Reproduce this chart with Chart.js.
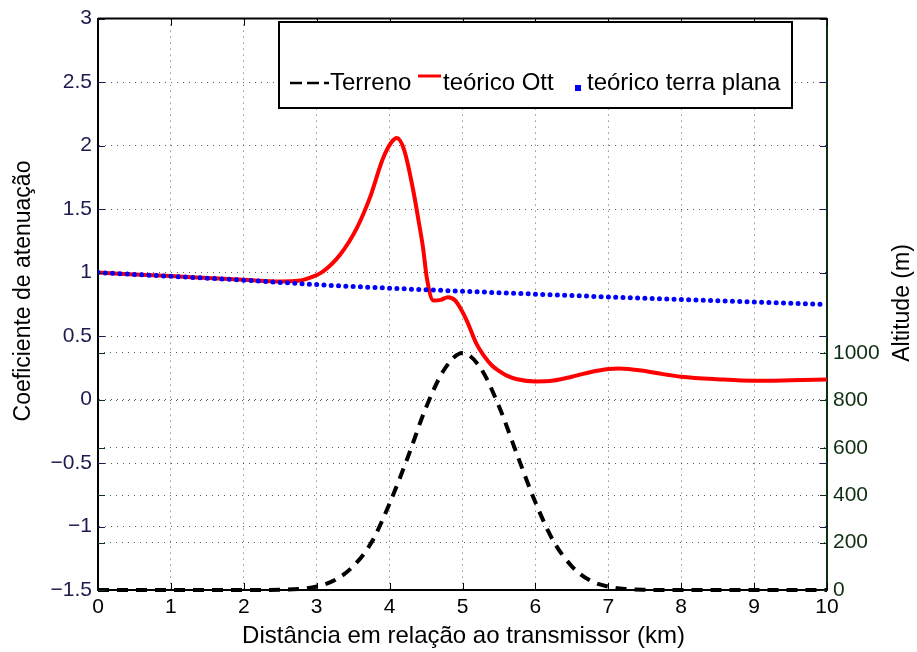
<!DOCTYPE html>
<html>
<head>
<meta charset="utf-8">
<script src="https://cdn.jsdelivr.net/npm/chart.js@4.4.1/dist/chart.umd.min.js"></script>
<style>
  html, body { margin: 0; padding: 0; background: #fff; }
  #wrap { width: 917px; height: 652px; }
</style>
</head>
<body>
<div id="wrap"><canvas id="attenuationChart" width="917" height="652"></canvas></div>
<script>
// ── Data ──────────────────────────────────────────
const ottKm   = [0, 0.5, 1, 1.5, 2, 2.5, 2.75, 2.86, 3.09, 3.32, 3.55, 3.73, 3.91, 4.03, 4.1, 4.2, 4.32, 4.4, 4.46, 4.51, 4.6, 4.7, 4.8, 4.9, 4.97, 5.06, 5.19, 5.3, 5.4, 5.5, 5.6, 5.75, 6.0, 6.25, 6.5, 6.75, 7.0, 7.15, 7.5, 7.75, 8.0, 8.5, 9.0, 9.5, 10];
const ottCoef = [1.0, 0.985, 0.972, 0.957, 0.943, 0.93, 0.935, 0.95, 1.01, 1.14, 1.35, 1.59, 1.90, 2.03, 2.06, 1.965, 1.66, 1.40, 1.19, 0.96, 0.78, 0.785, 0.805, 0.78, 0.72, 0.62, 0.44, 0.34, 0.27, 0.225, 0.19, 0.16, 0.143, 0.15, 0.18, 0.215, 0.24, 0.245, 0.225, 0.2, 0.18, 0.16, 0.148, 0.152, 0.158];

const flatKm   = [0, 1, 2, 3, 4, 5, 6, 7, 8, 9, 10];
const flatCoef = [1.0, 0.97, 0.94, 0.905, 0.877, 0.853, 0.83, 0.808, 0.787, 0.768, 0.748];

const terrainKm  = [0, 0.5, 1, 1.5, 2, 2.25, 2.5, 2.75, 3, 3.25, 3.5, 3.75, 4, 4.25, 4.5, 4.75, 5, 5.25, 5.5, 5.75, 6, 6.25, 6.5, 6.75, 7, 7.25, 7.5, 8, 8.5, 9, 9.5, 10];
const terrainAlt = [0, 0, 0, 0, 0, 0, 1, 4, 15, 42, 100, 200, 365, 560, 770, 930, 1000, 935, 775, 570, 370, 205, 100, 40, 14, 4, 1, 0, 0, 0, 0, 0];

const coefTicks = [-1.5, -1, -0.5, 0, 0.5, 1, 1.5, 2, 2.5, 3];
const altTicks  = [0, 200, 400, 600, 800, 1000];
const kmTicks   = [0, 1, 2, 3, 4, 5, 6, 7, 8, 9, 10];

const legendItems = ['Terreno', 'teórico Ott', 'teórico terra plana'];

const COLORS = {
  ott: '#ff0000',
  flat: '#0000ff',
  terrain: '#000000',
  left: '#1b1b4f',
  right: '#0f2f12',
  grid: 'rgba(40,40,40,0.75)',
};

const FONT = "'Liberation Sans', Arial, Helvetica, sans-serif";

const toPts = (xs, ys) => xs.map((x, i) => ({ x, y: ys[i] }));
const fmt = v => (v < 0 ? '\u2212' + Math.abs(v) : String(v));

// ── MATLAB-ish frame: inward ticks, titles, legend ──
const matlabFrame = {
  id: 'matlabFrame',
  afterDraw(chart) {
    const { ctx, chartArea: a, scales } = chart;
    const tl = 7;
    ctx.save();
    ctx.lineWidth = 1;

    // x ticks, bottom and top
    ctx.strokeStyle = '#000';
    kmTicks.forEach(v => {
      const px = Math.round(scales.x.getPixelForValue(v)) + 0.5;
      ctx.beginPath();
      ctx.moveTo(px, a.bottom); ctx.lineTo(px, a.bottom - tl);
      ctx.moveTo(px, a.top); ctx.lineTo(px, a.top + tl);
      ctx.stroke();
    });
    // left axis ticks, both sides
    ctx.strokeStyle = COLORS.left;
    coefTicks.forEach(v => {
      const py = Math.round(scales.y.getPixelForValue(v)) + 0.5;
      ctx.beginPath();
      ctx.moveTo(a.left, py); ctx.lineTo(a.left + tl, py);
      ctx.moveTo(a.right, py); ctx.lineTo(a.right - tl, py);
      ctx.stroke();
    });
    // right axis ticks, both sides
    ctx.strokeStyle = COLORS.right;
    altTicks.forEach(v => {
      const py = Math.round(scales.y2.getPixelForValue(v)) + 0.5;
      ctx.beginPath();
      ctx.moveTo(a.left, py); ctx.lineTo(a.left + tl, py);
      ctx.moveTo(a.right, py); ctx.lineTo(a.right - tl, py);
      ctx.stroke();
    });

    // top frame line
    ctx.strokeStyle = '#000';
    ctx.lineWidth = 2;
    ctx.beginPath();
    ctx.moveTo(a.left, a.top); ctx.lineTo(a.right, a.top);
    ctx.stroke();

    // axis titles
    ctx.textAlign = 'center';
    ctx.textBaseline = 'middle';
    ctx.fillStyle = '#000';
    ctx.font = '24px ' + FONT;
    ctx.fillText('Distância em relação ao transmissor (km)', (a.left + a.right) / 2 + 1, 636);
    ctx.font = '23px ' + FONT;
    ctx.save();
    ctx.translate(24, 291);
    ctx.rotate(-Math.PI / 2);
    ctx.fillText('Coeficiente de atenuação', 0, 0);
    ctx.restore();
    ctx.save();
    ctx.translate(903, 303);
    ctx.rotate(-Math.PI / 2);
    ctx.fillText('Altitude (m)', 0, 0);
    ctx.restore();

    // legend box
    const bx = 279, by = 22, bw = 513, bh = 86;
    ctx.fillStyle = '#fff';
    ctx.fillRect(bx, by, bw, bh);
    ctx.strokeStyle = '#000';
    ctx.lineWidth = 2;
    ctx.strokeRect(bx, by, bw, bh);

    ctx.font = '24px ' + FONT;
    ctx.textAlign = 'left';
    ctx.textBaseline = 'alphabetic';
    ctx.fillStyle = '#000';
    // Terreno sample
    ctx.lineWidth = 2.5;
    ctx.setLineDash([12, 5]);
    ctx.beginPath();
    ctx.moveTo(290, 83); ctx.lineTo(329, 83);
    ctx.stroke();
    ctx.setLineDash([]);
    ctx.fillText(legendItems[0], 330, 90);
    // Ott sample
    ctx.strokeStyle = COLORS.ott;
    ctx.lineWidth = 3;
    ctx.beginPath();
    ctx.moveTo(418, 76); ctx.lineTo(441, 76);
    ctx.stroke();
    ctx.fillText(legendItems[1], 443, 90);
    // flat earth sample
    ctx.fillStyle = COLORS.flat;
    ctx.fillRect(575, 85, 6, 6);
    ctx.fillStyle = '#000';
    ctx.fillText(legendItems[2], 587, 90);

    ctx.restore();
  }
};

new Chart(document.getElementById('attenuationChart'), {
  type: 'line',
  data: {
    datasets: [
      {
        label: legendItems[0],
        data: toPts(terrainKm, terrainAlt),
        yAxisID: 'y2',
        borderColor: COLORS.terrain,
        borderWidth: 4,
        borderDash: [11, 8],
        pointRadius: 0,
        cubicInterpolationMode: 'monotone',
        clip: false,
      },
      {
        label: legendItems[2],
        data: toPts(flatKm, flatCoef),
        yAxisID: 'y',
        borderColor: COLORS.flat,
        borderWidth: 5,
        borderDash: [0, 7.3],
        borderCapStyle: 'round',
        pointRadius: 0,
        cubicInterpolationMode: 'monotone',
      },
      {
        label: legendItems[1],
        data: toPts(ottKm, ottCoef),
        yAxisID: 'y',
        borderColor: COLORS.ott,
        borderWidth: 4,
        pointRadius: 0,
        cubicInterpolationMode: 'monotone',
      },
    ]
  },
  options: {
    responsive: false,
    animation: false,
    layout: { padding: { top: 17, left: 0, right: 0, bottom: 0 } },
    plugins: {
      legend: { display: false },
      tooltip: { enabled: false },
    },
    scales: {
      x: {
        type: 'linear',
        min: 0, max: 10,
        afterBuildTicks: s => { s.ticks = kmTicks.map(value => ({ value })); },
        afterFit: s => { s.height = 62; },
        grid: { color: COLORS.grid, drawTicks: false, lineWidth: 1 },
        border: { display: true, color: '#000', width: 2, dash: [1, 5] },
        ticks: { color: '#000', padding: 5, font: { family: FONT, size: 21 }, maxRotation: 0, callback: v => String(v) },
      },
      y: {
        position: 'left',
        min: -1.5, max: 3,
        afterBuildTicks: s => { s.ticks = coefTicks.map(value => ({ value })); },
        afterFit: s => { s.width = 98; },
        grid: { color: COLORS.grid, drawTicks: false, lineWidth: 1 },
        border: { display: true, color: '#000', width: 2, dash: [1, 5] },
        ticks: { color: COLORS.left, padding: 6, font: { family: FONT, size: 21 }, callback: v => fmt(v) },
      },
      y2: {
        position: 'right',
        min: 0, max: 2410,
        afterBuildTicks: s => { s.ticks = altTicks.map(value => ({ value })); },
        afterFit: s => { s.width = 90; },
        grid: { color: COLORS.grid, drawTicks: false, lineWidth: 1 },
        border: { display: true, color: COLORS.right, width: 2, dash: [1, 5] },
        ticks: { color: COLORS.right, padding: 6, font: { family: FONT, size: 21 }, callback: v => String(v) },
      },
    }
  },
  plugins: [matlabFrame]
});
</script>
</body>
</html>
